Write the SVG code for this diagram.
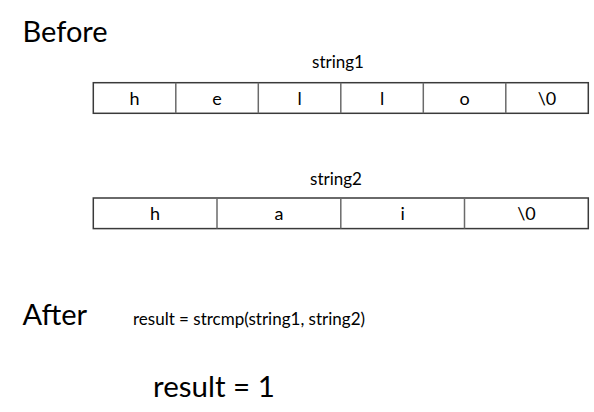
<svg xmlns="http://www.w3.org/2000/svg" width="594" height="412" viewBox="0 0 594 412">
<style>
text{font-family:Lato,"Liberation Sans",sans-serif;fill:#000}
.big{font-size:29px}
.lbl{font-size:17px;text-anchor:middle}
.cell{font-size:18px;text-anchor:middle}
.code{font-size:17px}
.box{fill:#fff;stroke:#3a3a3a;stroke-width:1.5}
.div{stroke:#6a6a6a;stroke-width:1.5}
</style>
<rect width="594" height="412" fill="#fff"/>
<text id="before" class="big" x="22.5" y="41.7">Before</text>
<g id="string1">
<text class="lbl" x="338" y="68.3">string1</text>
<rect class="box" x="93.3" y="82.7" width="495" height="30.6"/>
<g class="div">
<line x1="175.8" y1="82.7" x2="175.8" y2="113.3"/>
<line x1="258.3" y1="82.7" x2="258.3" y2="113.3"/>
<line x1="340.8" y1="82.7" x2="340.8" y2="113.3"/>
<line x1="423.3" y1="82.7" x2="423.3" y2="113.3"/>
<line x1="505.8" y1="82.7" x2="505.8" y2="113.3"/>
</g>
<text class="cell" x="134.5" y="105">h</text>
<text class="cell" x="217" y="105">e</text>
<text class="cell" x="299.5" y="105">l</text>
<text class="cell" x="382" y="105">l</text>
<text class="cell" x="464.5" y="105">o</text>
<text class="cell" x="547" y="105">\0</text>
</g>
<g id="string2">
<text class="lbl" x="336" y="185">string2</text>
<rect class="box" x="93.3" y="198" width="495" height="30.6"/>
<g class="div">
<line x1="217" y1="198" x2="217" y2="228.6"/>
<line x1="340.8" y1="198" x2="340.8" y2="228.6"/>
<line x1="464.5" y1="198" x2="464.5" y2="228.6"/>
</g>
<text class="cell" x="155" y="220.3">h</text>
<text class="cell" x="279" y="220.3">a</text>
<text class="cell" x="402.7" y="220.3">i</text>
<text class="cell" x="526.5" y="220.3">\0</text>
</g>
<text id="after" class="big" x="22.5" y="325">After</text>
<text id="call" class="code" x="133" y="325">result = strcmp(string1, string2)</text>
<text id="result" class="big" x="153" y="396.7" style="font-size:29.5px">result = 1</text>
</svg>
